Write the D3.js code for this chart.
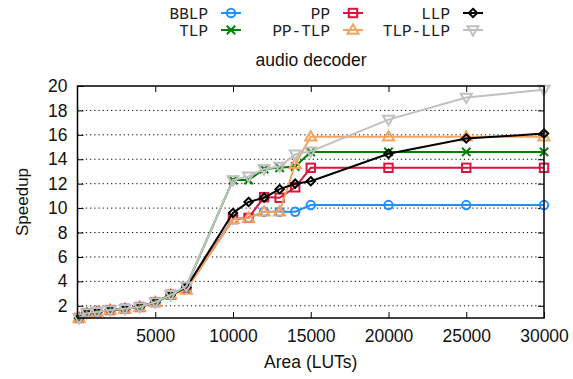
<!DOCTYPE html>
<html><head><meta charset="utf-8">
<script src="https://cdn.jsdelivr.net/npm/d3@7"></script>
<style>body{margin:0;background:#fff}svg{display:block}</style>
</head><body>
<svg id="c" width="573" height="379"></svg>
<script>
const xs = [100, 600, 1250, 2100, 3050, 4000, 5000, 6000, 7000, 10000, 11000, 12000, 13000, 14000, 15000, 20000, 25000, 30000];
const low = [1.0, 1.4, 1.5, 1.65, 1.75, 1.9, 2.3, 2.9];
const bblp   = [...low, 3.4, 9.1, 9.2, 9.7, 9.7, 9.7, 10.25, 10.25, 10.25, 10.25];
const tlp    = [...low, 3.6, 12.3, 12.3, 13.2, 13.3, 13.4, 14.6, 14.6, 14.6, 14.6];
const pp     = [...low, 3.4, 9.1, 9.2, 10.9, 10.85, 11.7, 13.3, 13.3, 13.3, 13.3];
const pptlp  = [...low, 3.3, 9.1, 9.2, 9.7, 9.7, 13.6, 15.85, 15.85, 15.85, 15.85];
const llp    = [...low, 3.5, 9.6, 10.5, 10.85, 11.55, 12.0, 12.2, 14.45, 15.7, 16.1];
const tlpllp = [...low, 3.6, 12.3, 12.6, 13.2, 13.4, 14.4, 14.65, 17.25, 19.05, 19.7];
const seriesNames = ["BBLP", "TLP", "PP", "PP-TLP", "LLP", "TLP-LLP"];
const seriesValues = [bblp, tlp, pp, pptlp, llp, tlpllp];
const colors = ["#1e90ff", "#008000", "#dc143c", "#f4a460", "#000000", "#c0c0c0"];
const markers = ["circle", "cross", "square", "triUp", "diamond", "triDown"];
const xTicks = [5000, 10000, 15000, 20000, 25000, 30000];
const yTicks = [2, 4, 6, 8, 10, 12, 14, 16, 18, 20];

const svg = d3.select("#c");
const L = 77.5, R = 544, T = 86, B = 318;
const x = d3.scaleLinear().domain([0, 30000]).range([L, R]);
const y = d3.scaleLinear().domain([1, 20]).range([B, T]);
const sans = "Liberation Sans, Arial, sans-serif";

// grid
svg.append("g").selectAll("line").data(yTicks.filter(d => d < 20)).join("line")
  .attr("x1", L).attr("x2", R).attr("y1", d => y(d)).attr("y2", d => y(d))
  .attr("stroke", "#000").attr("stroke-width", 1).attr("stroke-dasharray", "1.2,3");

// axes with inward ticks
const ax = svg.append("g");
const bottom = d3.axisBottom(x).tickValues(xTicks).tickSize(-6).tickPadding(12).tickFormat(d3.format("d"));
const gB = ax.append("g").attr("transform", `translate(0,${B})`).call(bottom);
const gT = ax.append("g").attr("transform", `translate(0,${T})`).call(d3.axisTop(x).tickValues(xTicks).tickSize(-6).tickFormat(""));
const gL = ax.append("g").attr("transform", `translate(${L},0)`).call(d3.axisLeft(y).tickValues(yTicks).tickSize(-6).tickPadding(10));
const gR = ax.append("g").attr("transform", `translate(${R},0)`).call(d3.axisRight(y).tickValues(yTicks).tickSize(-6).tickFormat(""));
[gB, gT, gL, gR].forEach(g => {
  g.select(".domain").remove();
  g.selectAll(".tick line").attr("stroke", "#000").attr("stroke-width", 1);
  g.selectAll("text").attr("font-family", sans).attr("font-size", 17.5).attr("fill", "#111");
});

// series
const line = d3.line().x((d, i) => x(xs[i])).y(d => y(d));
const plot = svg.append("g");

function marker(g, type, cx, cy, col) {
  const s = 4.2;
  if (type === "circle") g.append("circle").attr("cx", cx).attr("cy", cy).attr("r", s).attr("fill", "none").attr("stroke", col).attr("stroke-width", 2);
  else if (type === "square") g.append("rect").attr("x", cx - s).attr("y", cy - s).attr("width", 2 * s).attr("height", 2 * s).attr("fill", "none").attr("stroke", col).attr("stroke-width", 2);
  else if (type === "cross") g.append("path").attr("d", `M${cx - s},${cy - s}L${cx + s},${cy + s}M${cx - s},${cy + s}L${cx + s},${cy - s}`).attr("stroke", col).attr("stroke-width", 2);
  else if (type === "diamond") g.append("path").attr("d", `M${cx},${cy - s}L${cx + s},${cy}L${cx},${cy + s}L${cx - s},${cy}Z`).attr("fill", "none").attr("stroke", col).attr("stroke-width", 2);
  else if (type === "triUp") g.append("path").attr("d", `M${cx},${cy - 5.5}L${cx + 5.5},${cy + 3.8}L${cx - 5.5},${cy + 3.8}Z`).attr("fill", "none").attr("stroke", col).attr("stroke-width", 2);
  else if (type === "triDown") g.append("path").attr("d", `M${cx},${cy + 5.5}L${cx + 5.5},${cy - 3.8}L${cx - 5.5},${cy - 3.8}Z`).attr("fill", "none").attr("stroke", col).attr("stroke-width", 2);
}

seriesValues.forEach((vals, si) => {
  const g = plot.append("g");
  g.append("path").datum(vals).attr("d", line).attr("fill", "none").attr("stroke", colors[si]).attr("stroke-width", 2);
  vals.forEach((v, i) => marker(g, markers[si], x(xs[i]), y(v), colors[si]));
});

// border
svg.append("rect").attr("x", L).attr("y", T).attr("width", R - L).attr("height", B - T)
  .attr("fill", "none").attr("stroke", "#000").attr("stroke-width", 1.5);

// labels
svg.append("text").attr("x", (L + R) / 2).attr("y", 368).attr("text-anchor", "middle")
  .attr("font-family", sans).attr("font-size", 17.5).attr("fill", "#111").text("Area (LUTs)");
svg.append("text").attr("transform", `translate(28,${(T + B) / 2}) rotate(-90)`).attr("text-anchor", "middle")
  .attr("font-family", sans).attr("font-size", 17).attr("fill", "#111").text("Speedup");
svg.append("text").attr("x", 311).attr("y", 66).attr("text-anchor", "middle")
  .attr("font-family", sans).attr("font-size", 17.5).attr("fill", "#111").text("audio decoder");

// legend
const mono = "Liberation Mono, Courier New, monospace";
const colTextEnd = [208, 330, 450];
const rowY = [13, 30];
const legendPos = [[0, 0], [0, 1], [1, 0], [1, 1], [2, 0], [2, 1]];
seriesNames.forEach((nm, si) => {
  const [c, r] = legendPos[si];
  const g = svg.append("g");
  g.append("text").attr("x", colTextEnd[c]).attr("y", rowY[r] + 5.5).attr("text-anchor", "end")
    .attr("font-family", mono).attr("font-size", 16).attr("fill", "#222").text(nm);
  const x0 = colTextEnd[c] + 13, x1 = colTextEnd[c] + 33;
  g.append("line").attr("x1", x0).attr("x2", x1).attr("y1", rowY[r]).attr("y2", rowY[r]).attr("stroke", colors[si]).attr("stroke-width", 2);
  marker(g, markers[si], (x0 + x1) / 2, rowY[r], colors[si]);
});
</script>
</body></html>
